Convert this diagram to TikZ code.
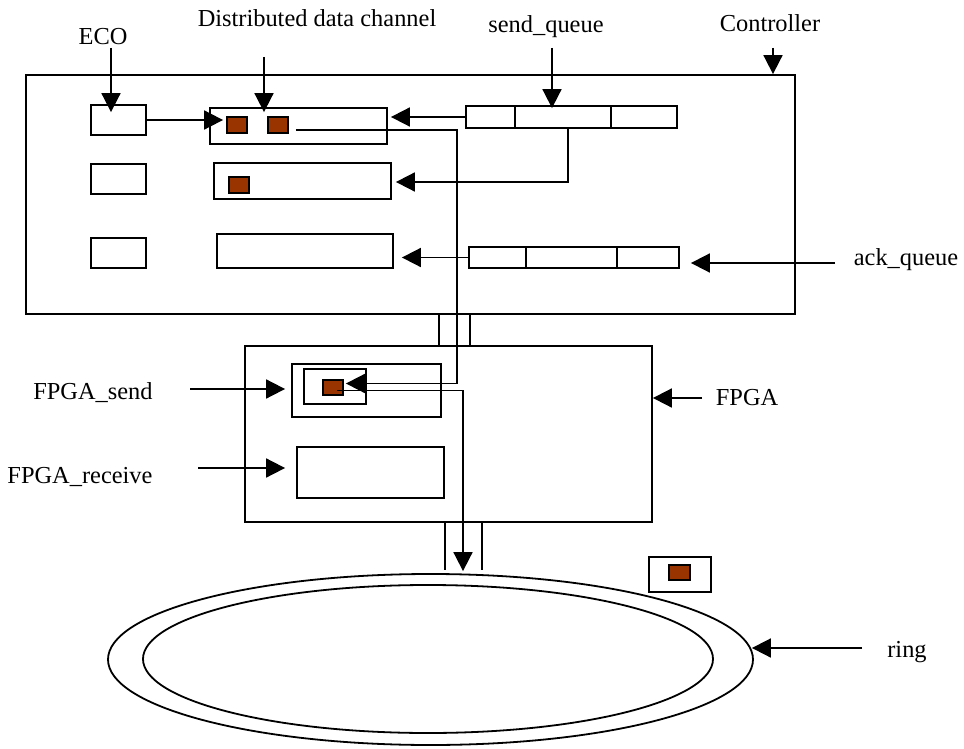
\documentclass[tikz,border=0pt]{standalone}
\usepackage{fontspec}
\setmainfont{Liberation Serif}
\usepackage{xcolor}
\usepackage{tikz}
\usetikzlibrary{calc,fit,shapes.geometric,arrows.meta}
\definecolor{pkt}{RGB}{153,51,0}

\begin{document}
\begin{tikzpicture}[x=0.5pt, y=-0.5pt, line width=0.9pt,
    box/.style={draw, inner sep=0pt},
    pkbox/.style={draw, fill=pkt, inner sep=0pt},
    ringshape/.style={draw, ellipse, inner sep=0pt},
    arr/.style={-{Triangle[length=9.5pt,width=9.5pt]}},
    lbl/.style={font=\fontsize{12.2}{14}\selectfont, inner sep=0pt}]
    \useasboundingbox (0,0) rectangle (964,749);

    % Controller
    \node[box, fit={(26,75) (795,314)}] (ctrl) {};
    \node[lbl] (ctrllbl) at (770,23) {Controller};
    \coordinate (ctrlin) at (773,48);
    \draw[arr] (ctrlin) -- (ctrlin |- ctrl.north);

    % ECO boxes and data channels
    \foreach \n/\y in {1/105,2/164,3/238}
        \node[box, fit={(91,\y) (146,\y+30)}] (eco\n) {};
    \node[box, fit={(210,108) (387,144)}] (ch1) {};
    \node[box, fit={(214,163) (391,199)}] (ch2) {};
    \node[box, fit={(217,234) (393,268)}] (ch3) {};
    \node[pkbox, fit={(227,117) (247,133)}] (pk1) {};
    \node[pkbox, fit={(268,117) (288,133)}] (pk2) {};
    \node[pkbox, fit={(229,177) (249,193)}] (pk3) {};
    \node[lbl] (ecolbl) at (103,37) {ECO};
    \coordinate (ecoin) at (111,48);
    \draw[arr] (ecoin) -- ($(ecoin |- eco1.north)+(0,8)$);
    \node[lbl] (chlbl) at (317,18) {Distributed data channel};
    \coordinate (chin) at (264,57);
    \draw[arr] (chin) -- ($(chin |- ch1.north)+(0,5)$);
    \draw[arr] (eco1.east) -- ($(eco1.east -| pk1.west)+(-3,0)$);

    % send_queue
    \node[box, fit={(466,106) (515,128)}] (sq1) {};
    \node[box, fit={(515,106) (611,128)}] (sq2) {};
    \node[box, fit={(611,106) (677,128)}] (sq3) {};
    \node[lbl] (sqlbl) at (546,27) {send\_queue};
    \coordinate (sqin) at (552,48);
    \draw[arr] (sqin) -- ($(sqin |- sq2.north)+(0,3)$);
    \draw[arr] (sq1.west) -- ($(sq1.west -| ch1.east)+(3,0)$);
    \draw[arr] ($(sq2.south)+(5,0)$) |- ($(ch2.east)+(4,1)$);

    % ack_queue
    \node[box, fit={(469,247) (526,268)}] (aq1) {};
    \node[box, fit={(526,247) (617,268)}] (aq2) {};
    \node[box, fit={(617,247) (679,268)}] (aq3) {};
    \node[lbl] (aqlbl) at (906,260) {ack\_queue};
    \coordinate (aqin) at (835,263);
    \draw[arr] (aqin) -- ($(aqin -| aq3.east)+(11,0)$);
    \draw[arr] (aq1.west) -- ($(aq1.west -| ch3.east)+(8,0)$);

    % FPGA
    \node[box, fit={(245,346) (652,522)}] (fpga) {};
    \node[box, fit={(292,364) (441,417)}] (fs) {};
    \node[box, fit={(304,369) (366,404)}] (fsin) {};
    \node[pkbox, fit={(323,380) (343,395)}] (fpk) {};
    \node[box, fit={(297,447) (444,498)}] (fr) {};
    \node[lbl, anchor=west] (fpgalbl) at (715,398) {FPGA};
    \coordinate (fpgain) at (702,398);
    \draw[arr] (fpgain) -- (fpgain -| fpga.east);
    \node[lbl] (fslbl) at (93,393) {FPGA\_send};
    \coordinate (fsarr) at (190,389);
    \draw[arr] (fsarr) -- ($(fsarr -| fs.west)+(-6,0)$);
    \node[lbl] (frlbl) at (80,477) {FPGA\_receive};
    \coordinate (frarr) at (198,468);
    \draw[arr] (frarr) -- ($(frarr -| fr.west)+(-11,0)$);
    \foreach \x in {439,470} {
        \coordinate (bus) at (\x,0);
        \draw (bus |- ctrl.south) -- (bus |- fpga.north);
    }

    % Ring
    \node[ringshape, minimum width=322.5pt, minimum height=85.5pt] (ring) at (430.5,659.5) {};
    \node[ringshape, minimum width=285pt, minimum height=74pt] (ringin) at (428,659) {};
    \node[lbl] (ringlbl) at (907,652) {ring};
    \coordinate (ringarr) at (862,648);
    \draw[arr] (ringarr) -- ($(ringarr -| ring.east)+(-2,0)$);
    \foreach \x in {445,482} {
        \coordinate (bus) at (\x,0);
        \draw (bus |- fpga.south) -- ($(bus |- ring.north)+(0,-3)$);
    }
    \node[box, fit={(649,557) (711,592)}] (spare) {};
    \node[pkbox, fit={(669,565) (690,580)}] (sparepk) {};

    % data path
    \draw[arr] ($(pk2.east)+(7,5)$) -- ++(161,0) |- ($(fpk.east)+(2,-4)$);
    \draw[arr] ($(fpk.center)+(4,3)$) -- ++(126,0) coordinate (drop) -- ($(drop |- ring.north)+(0,-2)$);
\end{tikzpicture}
\end{document}
